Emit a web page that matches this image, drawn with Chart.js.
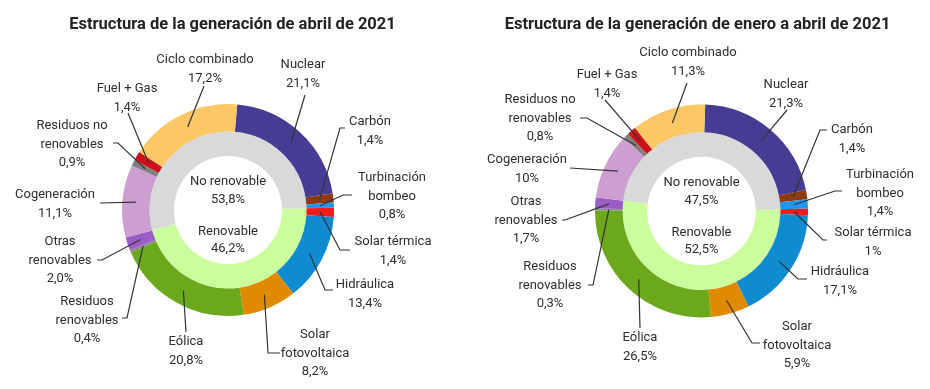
<!DOCTYPE html>
<html lang="es">
<head>
<meta charset="utf-8">
<script src="https://cdn.jsdelivr.net/npm/chart.js@4.4.0/dist/chart.umd.min.js"></script>
<style>
  body { margin: 0; background: #fff; }
  .fila { display: flex; width: 930px; height: 389px; }
  .caja { position: relative; width: 465px; height: 389px; }
</style>
</head>
<body>
<div class="fila">
  <div class="caja"><canvas id="graficoAbril"></canvas></div>
  <div class="caja"><canvas id="graficoEneroAbril"></canvas></div>
</div>
<script>
// tecnologías en el orden del anillo exterior (empezando arriba, sentido horario)
const tecnologias = [
  ['Nuclear'], ['Carbón'], ['Turbinación', 'bombeo'], ['Solar térmica'], ['Hidráulica'],
  ['Solar', 'fotovoltaica'], ['Eólica'], ['Residuos', 'renovables'], ['Otras', 'renovables'],
  ['Cogeneración'], ['Residuos no', 'renovables'], ['Fuel + Gas'], ['Ciclo combinado']
];
const valoresAbril = [21.1, 1.4, 0.8, 1.4, 13.4, 8.2, 20.8, 0.4, 2.0, 11.1, 0.9, 1.4, 17.2];
const valoresEneroAbril = [21.3, 1.4, 1.4, 1.0, 17.1, 5.9, 26.5, 0.3, 1.7, 10.0, 0.8, 1.4, 11.3];

// anillo interior
const tipos = ['Renovable', 'No renovable'];
const tiposAbril = [46.2, 53.8];
const tiposEneroAbril = [52.5, 47.5];

const coloresTecnologia = ['#463c94', '#8e3b12', '#2196f3', '#f01a1a', '#0f8bd0', '#e08a00',
  '#6ba81c', '#8a8a8a', '#9c5cc7', '#cc9fd0', '#808080', '#d0101a', '#fcc865'];
const coloresTipo = ['#ccfd9d', '#d9d9d9'];

// donde va cada etiqueta (x, y de la primera línea) y los puntos de su línea guía
const posicionesAbril = [
  {x: 303, y: 65, linea: [[305, 95]]},
  {x: 370, y: 122, linea: [[345, 128], [340, 128]]},
  {x: 392, y: 178, linea: [[352, 195], [343, 195]]},
  {x: 393, y: 242, linea: [[350, 250], [340, 250]]},
  {x: 365, y: 285, linea: [[333, 290], [325, 290]]},
  {x: 315, y: 335, linea: [[280, 353], [268, 353]]},
  {x: 186, y: 342, linea: [[186, 332]]},
  {x: 87, y: 302, linea: [[122, 318], [127, 318]]},
  {x: 60, y: 242, linea: [[97, 260], [102, 260]]},
  {x: 55, y: 195, linea: [[100, 203]]},
  {x: 72, y: 126, linea: [[113, 143], [118, 143]]},
  {x: 127, y: 89, linea: [[128, 113]]},
  {x: 205, y: 60, linea: [[204, 86]]}
];
const posicionesEneroAbril = [
  {x: 321, y: 85, linea: [[322, 110]]},
  {x: 387, y: 130, linea: [[362, 130], [355, 130]]},
  {x: 415, y: 175, linea: [[377, 191], [370, 191]]},
  {x: 408, y: 233, linea: [[362, 240], [358, 240]]},
  {x: 375, y: 272, linea: [[342, 279], [333, 279]]},
  {x: 332, y: 327, linea: [[295, 343], [287, 343]]},
  {x: 175, y: 338, linea: [[175, 328]]},
  {x: 85, y: 267, linea: [[123, 285], [128, 285]]},
  {x: 61, y: 202, linea: [[97, 220], [100, 220]]},
  {x: 62, y: 160, linea: [[105, 168]]},
  {x: 75, y: 100, linea: [[115, 118], [122, 118]]},
  {x: 142, y: 75, linea: [[140, 100]]},
  {x: 223, y: 53, linea: [[222, 83]]}
];

function formatoPorcentaje(valor, quitarCeros) {
  let texto = valor.toFixed(1);
  if (quitarCeros && texto.endsWith('.0')) texto = texto.slice(0, -2);
  return texto.replace('.', ',') + '%';
}

const etiquetasPlugin = {
  id: 'etiquetas',
  afterDatasetsDraw(chart, args, opts) {
    const ctx = chart.ctx;
    const arcos = chart.getDatasetMeta(0).data;
    const valores = chart.data.datasets[0].data;
    ctx.save();
    ctx.textAlign = 'center';
    ctx.textBaseline = 'middle';

    // título (se dibuja aquí para que no lo recorte el padding lateral)
    ctx.font = 'bold 16.5px Roboto';
    ctx.fillStyle = '#222';
    ctx.fillText(opts.titulo, chart.width / 2, 25);

    ctx.font = '13px Roboto';
    ctx.strokeStyle = '#333';
    ctx.lineWidth = 1.2;
    ctx.fillStyle = '#2e2e2e';
    opts.posiciones.forEach((pos, i) => {
      const ancla = arcos[i].getCenterPoint(true);
      ctx.beginPath();
      ctx.moveTo(pos.linea[0][0], pos.linea[0][1]);
      pos.linea.slice(1).forEach(p => ctx.lineTo(p[0], p[1]));
      ctx.lineTo(ancla.x, ancla.y);
      ctx.stroke();
      const lineas = tecnologias[i].concat(formatoPorcentaje(valores[i], opts.quitarCeros));
      lineas.forEach((t, j) => ctx.fillText(t, pos.x, pos.y + j * 18.5));
    });
    // textos del centro
    const cx = arcos[0].x;
    const cy = arcos[0].y;
    const tiposValores = chart.data.datasets[1].data;
    ctx.fillText(tipos[1], cx, cy - 28);
    ctx.fillText(formatoPorcentaje(tiposValores[1], false), cx, cy - 10);
    ctx.fillText(tipos[0], cx, cy + 22);
    ctx.fillText(formatoPorcentaje(tiposValores[0], false), cx, cy + 39);
    ctx.restore();
  }
};

function creaGrafico(id, titulo, valores, valoresTipo, rotacion, posiciones, quitarCeros, padding) {
  const total = valores.reduce((a, b) => a + b, 0);
  // el anillo interior arranca donde empiezan las renovables (Solar térmica)
  const inicioRenovable = rotacion + 360 * (valores[0] + valores[1] + valores[2]) / total;
  return new Chart(document.getElementById(id), {
    type: 'doughnut',
    data: {
      labels: tecnologias.map(t => t.join(' ')),
      datasets: [{
        data: valores,
        backgroundColor: coloresTecnologia,
        borderWidth: 0,
        weight: 27
      }, {
        data: valoresTipo,
        backgroundColor: coloresTipo,
        borderWidth: 0,
        weight: 24,
        rotation: inicioRenovable
      }]
    },
    options: {
      responsive: true,
      maintainAspectRatio: false,
      animation: false,
      rotation: rotacion,
      cutout: '51%',
      layout: { padding: padding },
      plugins: {
        legend: { display: false },
        tooltip: { enabled: false },
        title: { display: false },
        etiquetas: { titulo: titulo, posiciones: posiciones, quitarCeros: quitarCeros }
      }
    },
    plugins: [etiquetasPlugin]
  });
}

creaGrafico('graficoAbril', 'Estructura de la generación de abril de 2021',
  valoresAbril, tiposAbril, 5, posicionesAbril, false,
  { left: 122, right: 131, top: 104, bottom: 73 });

creaGrafico('graficoEneroAbril', 'Estructura de la generación de enero a abril de 2021',
  valoresEneroAbril, tiposEneroAbril, 2, posicionesEneroAbril, true,
  { left: 130, right: 122, top: 104, bottom: 71 });
</script>
</body>
</html>
